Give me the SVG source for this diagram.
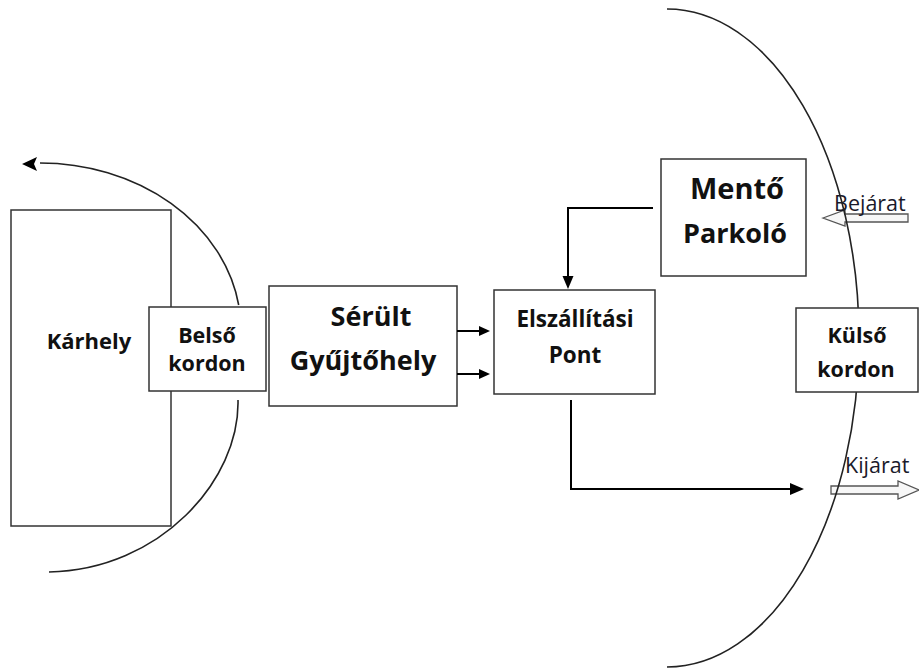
<svg xmlns="http://www.w3.org/2000/svg" width="919" height="672" viewBox="0 0 919 672">
  <style>
    .box { fill: #ffffff; stroke: #333333; stroke-width: 1.5; }
    .arc { fill: none; stroke: #222222; stroke-width: 1.6; }
    .conn { fill: none; stroke: #000000; stroke-width: 2; }
    .head { fill: #000000; stroke: none; }
    .lbl { font-family: "Open Sans", "Liberation Sans", sans-serif; font-weight: bold; fill: #111111; text-anchor: middle; }
    .gate { font-family: "Open Sans", "Liberation Sans", sans-serif; font-size: 21.5px; fill: #1a1a2a; }
    .hollow { fill: #f7f7f7; stroke: #555555; stroke-width: 1.3; }
  </style>

  <!-- incident area -->
  <g id="karhely">
    <rect class="box" x="11" y="210" width="160" height="316"/>
    <text class="lbl" x="89" y="349" font-size="22">Kárhely</text>
  </g>

  <!-- inner cordon arc with arrow at the top end -->
  <g id="belso-arc">
    <path class="arc" d="M 238.7 305 A 201 167 0 0 0 40 163"/>
    <polygon class="head" points="22,164 37,157 34,164 37,171"/>
    <path class="arc" d="M 238 400 C 240 480, 160 570, 49 572"/>
  </g>

  <!-- outer cordon arc with entry and exit gates -->
  <g id="kulso-arc-group">
    <g id="bejarat">
      <polygon class="hollow" points="823,218 845,210 845,214 908,214 908,222 845,222 845,226"/>
      <text class="gate" x="834" y="211">Bejárat</text>
    </g>
    <g id="kijarat">
      <polygon class="hollow" points="831,486 898,486 898,481 919,490 898,499 898,494 831,494"/>
      <text class="gate" x="845" y="473">Kijárat</text>
    </g>
    <path id="kulso-arc" class="arc" d="M 667 9 A 192 329 0 0 1 667 667"/>
  </g>

  <g id="belso-kordon">
    <rect class="box" x="149" y="307" width="117" height="84"/>
    <text class="lbl" x="207" y="343" font-size="21.5">Belső</text>
    <text class="lbl" x="207" y="371" font-size="21.5">kordon</text>
  </g>

  <g id="serult-gyujtohely">
    <rect class="box" x="269" y="286" width="188" height="120"/>
    <text class="lbl" x="371" y="326" font-size="27">Sérült</text>
    <text class="lbl" x="363" y="370" font-size="27">Gyűjtőhely</text>
  </g>

  <g id="elszallitasi-pont">
    <rect class="box" x="494" y="290" width="161" height="104"/>
    <text class="lbl" x="575" y="327" font-size="22.5">Elszállítási</text>
    <text class="lbl" x="575" y="363" font-size="22.5">Pont</text>
  </g>

  <g id="mento-parkolo">
    <rect class="box" x="661" y="159" width="145" height="117"/>
    <text class="lbl" x="737" y="199" font-size="29">Mentő</text>
    <text class="lbl" x="735" y="243" font-size="27">Parkoló</text>
  </g>

  <g id="kulso-kordon">
    <rect class="box" x="796" y="308" width="122" height="84"/>
    <text class="lbl" x="857" y="343" font-size="21.5">Külső</text>
    <text class="lbl" x="856" y="377" font-size="21.5">kordon</text>
  </g>

  <!-- flow connectors -->
  <g id="connectors">
    <path class="conn" d="M 653 208 H 568 V 277"/>
    <polygon class="head" points="562.5,276 573.5,276 568,289"/>

    <path class="conn" d="M 457 331 H 480"/>
    <polygon class="head" points="479,326 479,336 490,331"/>
    <path class="conn" d="M 457 374 H 480"/>
    <polygon class="head" points="479,369 479,379 490,374"/>

    <path class="conn" d="M 571 400 V 489 H 791"/>
    <polygon class="head" points="790,483 790,495 804,489"/>
  </g>
</svg>
